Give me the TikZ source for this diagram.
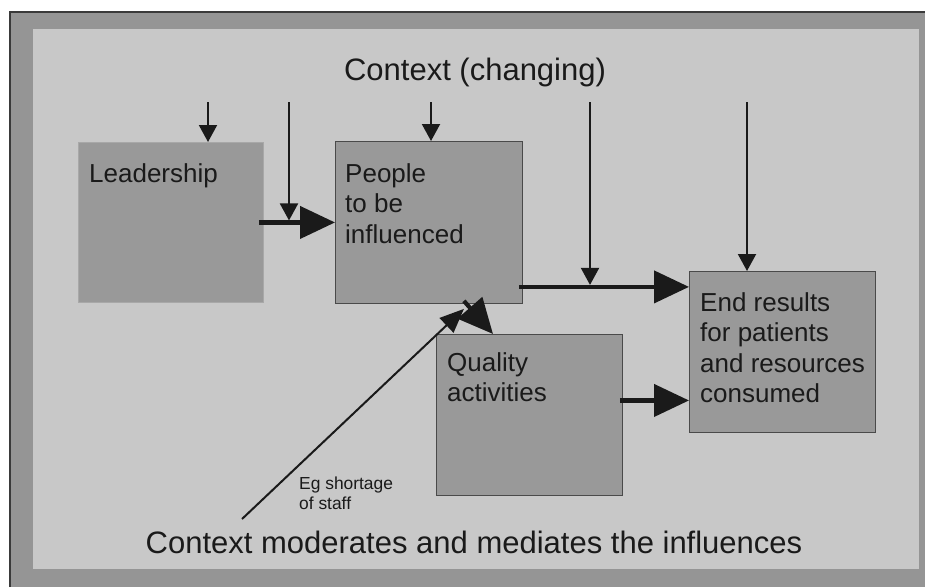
\documentclass[tikz,border=0pt]{standalone}
\usepackage{fontspec}
\setmainfont{Liberation Sans}
\usetikzlibrary{arrows.meta,calc}

\definecolor{framegray}{HTML}{959595}
\definecolor{framedark}{HTML}{3A3A3A}
\definecolor{panelgray}{HTML}{C8C8C8}
\definecolor{boxgray}{HTML}{999999}
\definecolor{boxedge}{HTML}{4A4A4A}
\definecolor{ink}{HTML}{1A1A1A}

\tikzset{
  box/.style={rectangle, fill=boxgray, draw=boxedge, line width=0.9pt,
    anchor=north west, inner sep=0pt},
  boxtext/.style={anchor=north west, inner sep=0pt, align=left, text=ink,
    font=\fontsize{26}{30.5}\selectfont},
  title/.style={inner sep=0pt, text=ink, font=\fontsize{31}{36}\selectfont},
  note/.style={anchor=north west, inner sep=0pt, align=left, text=ink,
    font=\fontsize{17.4}{20}\selectfont},
  flow/.style={draw=ink, line width=4.2pt,
    -{Triangle[length=35pt,width=32pt]}},
  push/.style={draw=ink, line width=2pt,
    -{Triangle[length=17pt,width=18pt]}},
  moderate/.style={draw=ink, line width=2pt,
    -{Triangle[length=24pt,width=20pt]}},
}

\begin{document}
\begin{tikzpicture}[x=1pt,y=-1pt]
\useasboundingbox (0,0) rectangle (925,587);

% frame and background panel
\fill[framegray] (10,12) rectangle (925,587);
\draw[framedark, line width=2pt] (10,587) -- (10,12) -- (925,12);
\fill[panelgray] (33,29) rectangle (919,569);

% headings
\node[title, anchor=base] (ctxtop) at (475,80) {Context (changing)};
\node[title, anchor=base] (ctxbot) at (474,553) {Context moderates and mediates the influences};

% boxes
\node[box, draw=boxgray!85!white, minimum width=185pt, minimum height=160pt] (lead) at (78,142) {};
\node[box, minimum width=187pt, minimum height=162pt] (peo) at (335,141) {};
\node[box, minimum width=186pt, minimum height=161pt] (qa) at (436,334) {};
\node[box, minimum width=186pt, minimum height=161pt] (res) at (689,271) {};

% box texts
\node[boxtext] (leadtxt) at (89,163) {Leadership};
\node[boxtext] (peotxt) at (345,163) {People\\to be\\influenced};
\node[boxtext] (qatxt) at (447,352) {Quality\\activities};
\node[boxtext] (restxt) at (700,292) {End results\\for patients\\and resources\\consumed};
\node[note] (eg) at (299,477) {Eg shortage\\of staff};

% free ends of the context arrows
\coordinate (c1) at (208,102);
\coordinate (c2) at (289,102);
\coordinate (c3) at (431,102);
\coordinate (c4) at (590,102);
\coordinate (c5) at (747,102);
\coordinate (m0) at (242,519);

% main flows
\coordinate (pstart) at ($(peo.south east)+(-4,-17)$);
\coordinate (qstart) at ($(qa.east)+(-3,-14.5)$);
\draw[flow] ([xshift=-5pt]lead.east) -- (peo.west);
\draw[flow] (pstart) -- (pstart -| res.west);
\draw[flow] (qstart) -- (qstart -| res.west);
\draw[flow] ($(peo.south east)+(-59,-3)$) -- ($(qa.north west)+(57,0)$);

% context pushing down
\draw[push] (c1) -- (c1 |- lead.north);
\draw[push] (c2) -- ($(c2 |- lead.east)+(0,-2)$);
\draw[push] (c3) -- (c3 |- peo.north);
\draw[push] (c4) -- ($(c4 |- pstart)+(0,-2)$);
\draw[push] (c5) -- (c5 |- res.north);

% context moderating from below
\draw[moderate] (m0) -- ($(peo.south east)+(-59,5)$);
\end{tikzpicture}
\end{document}
